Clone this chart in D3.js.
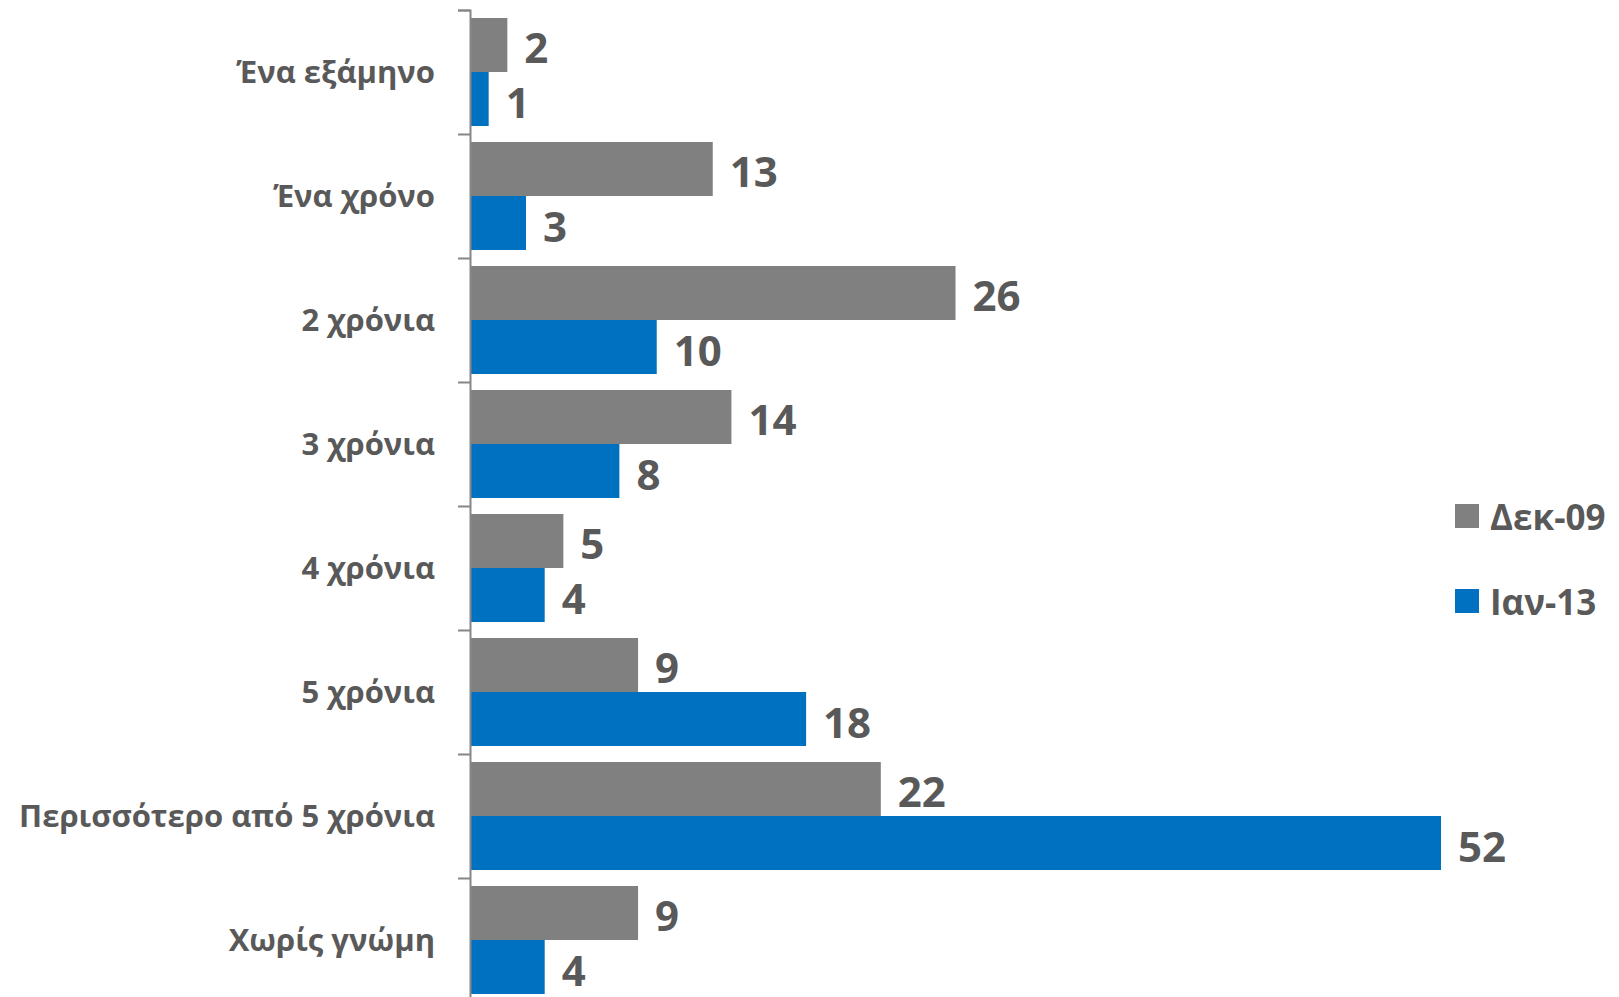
<!DOCTYPE html>
<html><head><meta charset="utf-8">
<script src="https://cdn.jsdelivr.net/npm/d3@7"></script>
<style>html,body{margin:0;padding:0;background:#fff;}svg{display:block;}</style>
</head><body>
<svg id="c" width="1619" height="997"></svg>
<script>
const categories = ["Ένα εξάμηνο","Ένα χρόνο","2 χρόνια","3 χρόνια","4 χρόνια","5 χρόνια","Περισσότερο από 5 χρόνια","Χωρίς γνώμη"];
const seriesNames = ["Δεκ-09","Ιαν-13"];
const dec09 = [2,13,26,14,5,9,22,9];
const jan13 = [1,3,10,8,4,18,52,4];
const colors = ["#808080","#0070C0"];

const svg = d3.select("#c");
const font = "'Open Sans', sans-serif";
const textColor = "#595959";
const x0 = 470, plotTop = 10, band = 124;
const y = d3.scaleBand().domain(categories).range([plotTop, plotTop + band*categories.length]).paddingInner(0.129).paddingOuter(0.0645);
const x = d3.scaleLinear().domain([0,52]).range([x0, 1441]);
const sub = d3.scaleBand().domain(seriesNames).range([0, y.bandwidth()]);

const series = [dec09, jan13];
series.forEach((vals, si) => {
  const g = svg.append("g");
  g.selectAll("rect").data(vals).join("rect")
    .attr("x", x(0)).attr("y", (d,i) => y(categories[i]) + sub(seriesNames[si]))
    .attr("width", d => x(d) - x(0)).attr("height", sub.bandwidth())
    .attr("fill", colors[si]);
  g.selectAll("text").data(vals).join("text")
    .attr("x", d => x(d) + 17)
    .attr("y", (d,i) => y(categories[i]) + sub(seriesNames[si]) + sub.bandwidth()/2 + 2)
    .attr("dominant-baseline","central")
    .attr("font-family", font).attr("font-weight","bold").attr("font-size", 42)
    .attr("fill", textColor).text(d => d);
});

// axis
const axisScale = d3.scaleLinear().domain([0, categories.length]).range([plotTop, plotTop + band*categories.length]);
const axis = d3.axisLeft(axisScale).tickValues(d3.range(0, categories.length+1)).tickSize(12).tickFormat("");
const ag = svg.append("g").attr("transform", `translate(${x0},0)`).call(axis);
ag.selectAll("path,line").attr("stroke","#868686").attr("stroke-width",2);

// category labels
svg.append("g").selectAll("text").data(categories).join("text")
  .attr("x", 435).attr("y", (d,i) => plotTop + i*band + band/2 - 1)
  .attr("text-anchor","end").attr("dominant-baseline","central")
  .attr("font-family", font).attr("font-weight","bold").attr("font-size", 31)
  .attr("fill", textColor).text(d => d);

// legend
const lg = svg.append("g");
seriesNames.forEach((n, i) => {
  const cy = 516 + i*85;
  lg.append("rect").attr("x",1455).attr("y",cy-12).attr("width",24).attr("height",24).attr("fill",colors[i]);
  lg.append("text").attr("x",1490).attr("y",cy).attr("dominant-baseline","central")
    .attr("font-family", font).attr("font-weight","bold").attr("font-size",35)
    .attr("fill",textColor).text(n);
});
</script>
</body></html>
